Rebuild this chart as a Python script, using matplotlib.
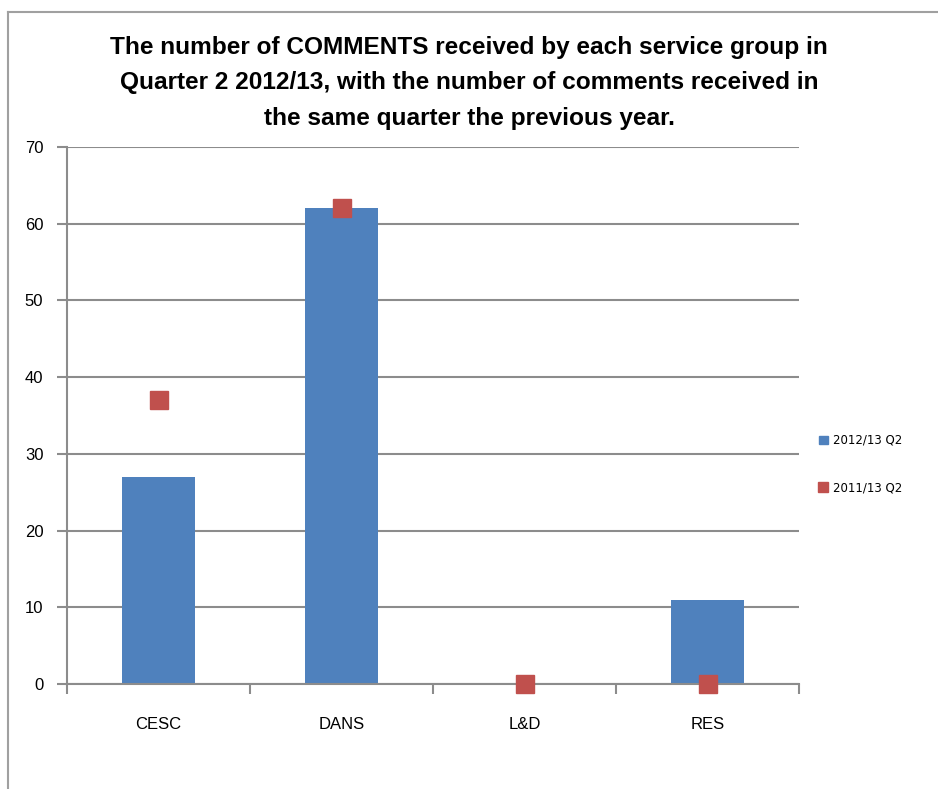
import matplotlib.pyplot as plt
from matplotlib.lines import Line2D
from matplotlib.patches import Patch
import numpy as np

groups = ["CESC", "DANS", "L&D", "RES"]
q2_2012 = [27, 62, 0, 11]
q2_2011 = [37, 62, 0, 0]
series_names = ["2012/13 Q2", "2011/13 Q2"]

blue = "#4F81BD"
red = "#C0504D"
grey = "#8C8C8C"

fig = plt.figure(figsize=(9.38, 7.89), dpi=100)
ax = fig.add_axes([67/938, 1 - 684/789, (799-67)/938, (684-147)/789])

x = np.arange(len(groups))
ax.bar(x, q2_2012, width=0.4, color=blue, zorder=2)
ax.plot(x, q2_2011, ls="none", marker="s", ms=12.5, color=red, zorder=3, clip_on=False)

ax.set_xlim(-0.5, len(groups) - 0.5)
ax.set_ylim(0, 70)
ax.set_yticks(range(0, 71, 10))
ax.yaxis.grid(True, color=grey, lw=1.5, zorder=0)
ax.set_xticks(x)
ax.set_xticklabels(groups, fontsize=12, family="Liberation Sans")
ax.tick_params(axis="x", length=0, pad=24)
ax.set_xticks(np.arange(-0.5, len(groups)), minor=True)
ax.tick_params(axis="x", which="minor", length=7, width=1.5, color=grey)
ax.tick_params(axis="y", length=7, width=1.5, color=grey, labelsize=12, pad=10)
for lbl in ax.get_yticklabels():
    lbl.set_family("Liberation Sans")
for s in ["top", "right"]:
    ax.spines[s].set_visible(False)
for s in ["left", "bottom"]:
    ax.spines[s].set_color(grey)
    ax.spines[s].set_linewidth(1.5)

fig.text(0.5, 1 - 83/789,
         "The number of COMMENTS received by each service group in\n"
         "Quarter 2 2012/13, with the number of comments received in\n"
         "the same quarter the previous year.",
         ha="center", va="center", fontsize=17.6, fontweight="bold",
         family="Liberation Sans", linespacing=1.72)

handles = [Patch(color=blue), Line2D([], [], ls="none", marker="s", ms=7, color=red)]
fig.legend(handles, series_names, loc="center left", bbox_to_anchor=(808/938, 1 - 464/789),
           frameon=False, labelspacing=2.9, handlelength=0.8, handletextpad=0.4,
           prop={"family": "DejaVu Sans", "size": 8.5})

# outer frame
fig.add_artist(Line2D([8/938, 8/938], [0, 1 - 12/789], color="#A0A0A0", lw=1.5))
fig.add_artist(Line2D([8/938, 1], [1 - 12/789, 1 - 12/789], color="#A0A0A0", lw=1.5))

fig.savefig("out.png", dpi=100)
